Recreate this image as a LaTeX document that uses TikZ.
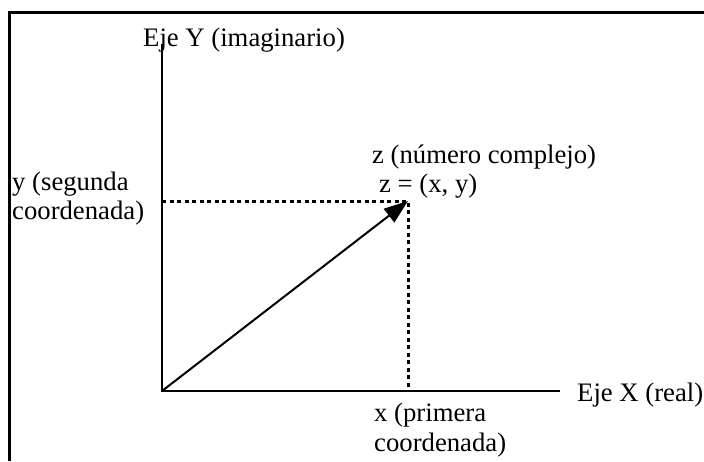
\documentclass[tikz,border=0pt]{standalone}
\usepackage{fontspec}
\setmainfont{Liberation Serif}
\usetikzlibrary{arrows.meta}
\begin{document}
\begin{tikzpicture}[x=1pt,y=-1pt,
  lbl/.style={anchor=base west,inner sep=0pt,font=\fontsize{26.7}{29}\selectfont},
  frameline/.style={line width=3pt},
  axisline/.style={line width=2pt},
  dotline/.style={line width=3pt,dash pattern=on 4pt off 3.5pt},
  vecline/.style={line width=2pt,-{Triangle[length=24pt,width=17pt]}}]
\useasboundingbox (0,0) rectangle (704,461);
% frame
\coordinate (fb) at (9,461);
\coordinate (fc) at (9,12);
\coordinate (fr) at (704,12);
\draw[frameline] (fb) -- (fc) -- (fr);
% axes
\coordinate (O) at (162,391);
\coordinate (Ytop) at (162,44);
\coordinate (Xend) at (560,391);
\coordinate (Z) at (408,201);
\coordinate (Yp) at (162,201);
\coordinate (Xp) at (408,391);
\draw[axisline] (Ytop) -- (O) -- (Xend);
\draw[dotline] (Yp) -- (Z) -- (Xp);
\draw[vecline] (O) -- (Z);
% labels
\node[lbl] (ejey) at (143,46) {Eje Y (imaginario)};
\node[lbl] (ejex) at (577,401) {Eje X (real)};
\node[lbl] (zn) at (372,163) {z (número complejo)};
\node[lbl] (zxy) at (379,192) {z = (x, y)};
\node[lbl] (ys1) at (12,190) {y (segunda};
\node[lbl] (ys2) at (12,219) {coordenada)};
\node[lbl] (xp1) at (374,421) {x (primera};
\node[lbl] (xp2) at (374,451) {coordenada)};
\end{tikzpicture}
\end{document}
